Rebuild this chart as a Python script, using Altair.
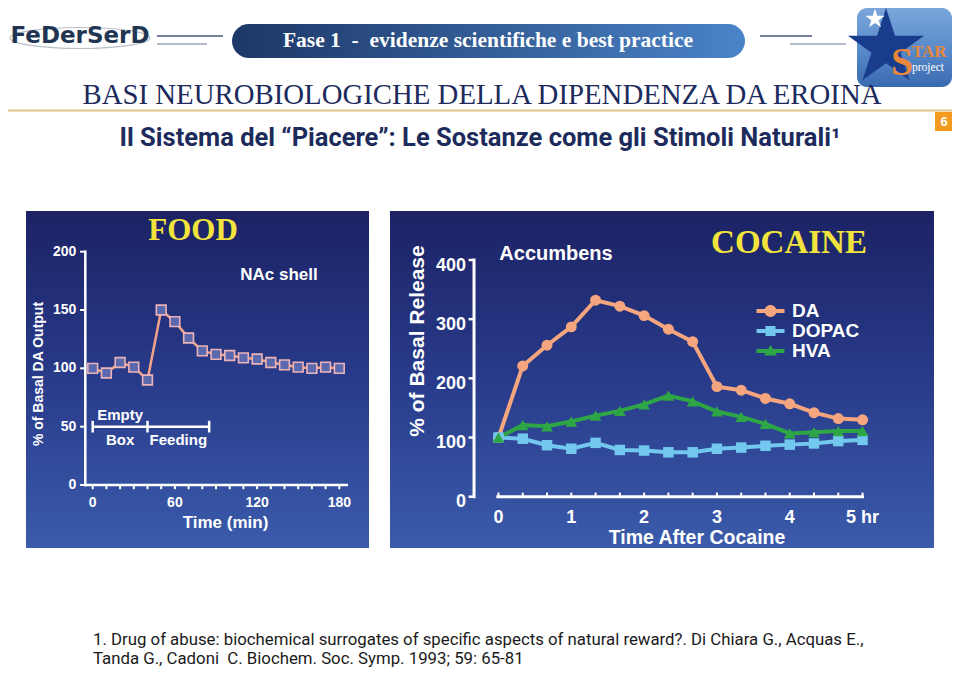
import altair as alt
import pandas as pd

# ---------------- values ----------------
food_minutes = [0, 10, 20, 30, 40, 50, 60, 70, 80, 90, 100, 110, 120, 130, 140, 150, 160, 170, 180]
food_da = [100, 96, 105, 101, 90, 150, 140, 126, 115, 112, 111, 109, 108, 105, 103, 101, 100, 101, 100]
food_y_ticks = [0, 50, 100, 150, 200]
food_x_labels = [0, 60, 120, 180]

period_names = ["Empty Box", "Feeding"]
period_start = [0, 40]
period_end = [40, 85]
period_above = ["Empty", ""]
period_below = ["Box", "Feeding"]
period_bounds = [0, 40, 85]

coc_hours = [0, 0.3333, 0.6667, 1, 1.3333, 1.6667, 2, 2.3333, 2.6667,
             3, 3.3333, 3.6667, 4, 4.3333, 4.6667, 5]
coc_da = [100, 221, 256, 287, 332, 322, 306, 283, 262, 186, 180, 166, 157, 142, 132, 130]
coc_dopac = [100, 98, 87, 81, 91, 79, 78, 75, 75, 81, 83, 86, 88, 90, 94, 96]
coc_hva = [100, 121, 119, 127, 137, 145, 156, 171, 161, 144, 135, 123, 107, 109, 111, 111]
coc_series = ["DA", "DOPAC", "HVA"]
coc_y_ticks = [0, 100, 200, 300, 400]
coc_x_labels = [0, 1, 2, 3, 4, 5]
coc_x_label_text = ["0", "1", "2", "3", "4", "5 hr"]

NB = "\u00a0"
banner_text = "Fase 1" + NB + NB + "-" + NB + NB + "evidenze scientifiche e best practice"
main_title = "BASI NEUROBIOLOGICHE DELLA DIPENDENZA DA EROINA"
subtitle = "Il Sistema del \u201cPiacere\u201d: Le Sostanze come gli Stimoli Naturali\u00b9"
foot1 = "1. Drug of abuse: biochemical surrogates of specific aspects of natural reward?. Di Chiara G., Acquas E.,"
foot2 = "Tanda G., Cadoni" + NB + NB + "C. Biochem. Soc. Symp. 1993; 59: 65-81"

# ---------------- styling ----------------
W, H = 944, 660
SANS = "Liberation Sans, Arial, sans-serif"
SERIF = "Liberation Serif, Times New Roman, serif"
NARROW = "Roboto, Liberation Sans, sans-serif"
NAVY = "#1c2b5c"
WHITE = "#ffffff"
coc_colors = ["#f6a67e", "#72c8ee", "#2fa646"]
legend_paths = [
    "M-2,-0.28L2,-0.28L2,0.28L-2,0.28Z M-0.85,0A0.85,0.85 0 1,1 0.85,0A0.85,0.85 0 1,1 -0.85,0Z",
    "M-2,-0.28L2,-0.28L2,0.28L-2,0.28Z M-0.72,-0.72L0.72,-0.72L0.72,0.72L-0.72,0.72Z",
    "M-2,-0.28L2,-0.28L2,0.28L-2,0.28Z M0,-0.85L0.92,0.65L-0.92,0.65Z",
]
STAR_PATH = ("M0,-1L0.2245,-0.309L0.951,-0.309L0.363,0.118L0.588,0.809L0,0.382"
             "L-0.588,0.809L-0.363,0.118L-0.951,-0.309L-0.2245,-0.309Z")
ELLIPSE_PATH = "M-1,0A1,0.15 0 1,0 1,0A1,0.15 0 1,0 -1,0"

dummy = pd.DataFrame({"k": [0]})


def txt(text, x, y, size, color, font=SANS, weight="bold", align="center", baseline="middle", **kw):
    return alt.Chart(dummy).mark_text(text=text, fontSize=size, color=color, font=font,
                                      fontWeight=weight, align=align, baseline=baseline, **kw
                                      ).encode(x=alt.value(x), y=alt.value(y))


def box(x, x2, y, y2, color, **kw):
    return alt.Chart(dummy).mark_rect(color=color, **kw).encode(
        x=alt.value(x), x2=alt.value(x2), y=alt.value(y), y2=alt.value(y2))


def hline(x, x2, y, color, width):
    return alt.Chart(dummy).mark_rule(color=color, strokeWidth=width).encode(
        x=alt.value(x), x2=alt.value(x2), y=alt.value(y))


def vgrad(top, mid, bottom):
    return alt.LinearGradient(gradient="linear", x1=0, x2=0, y1=0, y2=1,
                              stops=[alt.GradientStop(offset=0, color=top),
                                     alt.GradientStop(offset=0.5, color=mid),
                                     alt.GradientStop(offset=1, color=bottom)])


# ---------------- slide decorations ----------------
decor = [
    alt.Chart(dummy).mark_point(shape=ELLIPSE_PATH, size=19600, filled=False, color="#b8bec8",
                                strokeWidth=1.2, opacity=1).encode(x=alt.value(72), y=alt.value(30)),
    txt("FeDerSerD", 72, 28, 23, "#1f3552", font="DejaVu Sans, sans-serif"),
    hline(149, 215, 28, "#4a5a78", 1.5),
    hline(149, 199, 36, "#9aa4b8", 1.5),
    hline(752, 804, 28, "#4a5a78", 1.5),
    hline(782, 838, 36, "#9aa4b8", 1.5),
    box(224, 737, 16, 50, alt.LinearGradient(gradient="linear", x1=0, x2=1, y1=0, y2=0,
                                            stops=[alt.GradientStop(offset=0, color="#1d3767"),
                                                   alt.GradientStop(offset=1, color="#4a84c8")]),
        cornerRadius=17),
    txt(banner_text, 480, 33, 21.5, WHITE, font=SERIF),
    box(849, 944, 0, 79, vgrad("#7aa6da", "#5a8ccc", "#3a6ab0"), cornerRadius=10),
    alt.Chart(dummy).mark_point(shape=STAR_PATH, size=6400, filled=True, color="#1a3c8c",
                                opacity=1).encode(x=alt.value(878), y=alt.value(40)),
    alt.Chart(dummy).mark_point(shape=STAR_PATH, size=420, filled=True, color=WHITE,
                                opacity=1).encode(x=alt.value(867), y=alt.value(11)),
    txt("S", 894, 55, 40, "#e8873a", font=SERIF),
    txt("TAR", 904, 44, 17, "#e8873a", font=SERIF, align="left"),
    txt("project", 904, 60, 11.5, WHITE, font=SERIF, weight="normal", align="left"),
    txt(main_title, 474, 87, 28.8, NAVY, font=SERIF, weight="normal"),
    hline(0, 944, 102.5, "#dcc48c", 2),
    box(927, 944, 104, 123, "#f39a1f"),
    txt("6", 936, 114, 13, WHITE),
    txt(subtitle, 472, 130, 25.5, NAVY, font=NARROW),
    box(18, 361, 203, 540, vgrad("#1c2264", "#283b8a", "#3b5bab")),
    box(382, 926, 203, 540, vgrad("#1c2264", "#283b8a", "#3b5bab")),
]

# ---------------- FOOD panel ----------------
FX_DOM = [-5.4, 185.4]
FY_DOM = [0, 200]
fx_scale = alt.Scale(domain=FX_DOM, range=[77.3, 338.7], nice=False, zero=False)
fy_scale = alt.Scale(domain=FY_DOM, range=[477, 243.7], nice=False, zero=False)

food_df = pd.DataFrame({"minute": food_minutes, "pct": food_da})
fxt_df = pd.DataFrame({"v": food_minutes})
fxl_df = pd.DataFrame({"v": food_x_labels, "t": [str(v) for v in food_x_labels]})
fyl_df = pd.DataFrame({"v": food_y_ticks, "t": [str(v) for v in food_y_ticks]})


def FX(f=None, **kw):
    return alt.X(f, scale=fx_scale, axis=None, **kw) if f else alt.X(scale=fx_scale, axis=None, **kw)


def FY(f=None, **kw):
    return alt.Y(f, scale=fy_scale, axis=None, **kw) if f else alt.Y(scale=fy_scale, axis=None, **kw)


food_line = alt.Chart(food_df).mark_line(color="#f2a48a", strokeWidth=2.5).encode(
    x=FX("minute:Q"), y=FY("pct:Q"))
food_pts = alt.Chart(food_df).mark_square(size=95, fill="#5a68ae", stroke="#ecb4b8",
                                          strokeWidth=1.6, opacity=1).encode(
    x=FX("minute:Q"), y=FY("pct:Q"))
food_xdomain = alt.Chart(dummy).mark_rule(color=WHITE, strokeWidth=2.5, strokeCap="square").encode(
    x=FX(datum=FX_DOM[0]), x2=alt.X2(datum=FX_DOM[1]), y=FY(datum=0))
food_ydomain = alt.Chart(dummy).mark_rule(color=WHITE, strokeWidth=2.5, strokeCap="square").encode(
    x=FX(datum=FX_DOM[0]), y=FY(datum=FY_DOM[0]), y2=alt.Y2(datum=FY_DOM[1]))
food_xticks = alt.Chart(fxt_df).mark_rule(color=WHITE, strokeWidth=2).encode(
    x=FX("v:Q"), y=FY(datum=0), y2=alt.Y2(datum=-3.6))
food_yticks = alt.Chart(fyl_df).mark_rule(color=WHITE, strokeWidth=2).encode(
    y=FY("v:Q"), x=FX(datum=FX_DOM[0]), x2=alt.X2(datum=FX_DOM[0] - 3.8))
food_xlabels = alt.Chart(fxl_df).mark_text(color=WHITE, font=SANS, fontWeight="bold",
                                           fontSize=14, dy=18, baseline="middle").encode(
    x=FX("v:Q"), y=FY(datum=0), text="t:N")
food_ylabels = alt.Chart(fyl_df).mark_text(color=WHITE, font=SANS, fontWeight="bold",
                                           fontSize=14, dx=-9, align="right", baseline="middle").encode(
    x=FX(datum=FX_DOM[0]), y=FY("v:Q"), text="t:N")

period_df = pd.DataFrame({"name": period_names, "start": period_start, "end": period_end,
                          "above": period_above, "below": period_below,
                          "mid": [(a + b) / 2 for a, b in zip(period_start, period_end)]})
bounds_df = pd.DataFrame({"b": period_bounds})
period_bar = alt.Chart(period_df).mark_rule(color=WHITE, strokeWidth=2.5).encode(
    x=FX("start:Q"), x2="end:Q", y=FY(datum=50))
period_caps = alt.Chart(bounds_df).mark_rule(color=WHITE, strokeWidth=2.5).encode(
    x=FX("b:Q"), y=FY(datum=45), y2=alt.Y2(datum=55))
period_top = alt.Chart(period_df).mark_text(color=WHITE, font=SANS, fontWeight="bold",
                                            fontSize=15, dy=-12).encode(
    x=FX("mid:Q"), y=FY(datum=50), text="above:N")
period_bot = alt.Chart(period_df).mark_text(color=WHITE, font=SANS, fontWeight="bold",
                                            fontSize=15, dy=13).encode(
    x=FX("mid:Q"), y=FY(datum=50), text="below:N")

food_layer = alt.layer(food_xdomain, food_ydomain, food_xticks, food_yticks, food_xlabels,
                       food_ylabels, food_line, food_pts, period_bar, period_caps,
                       period_top, period_bot)

# ---------------- COCAINE panel ----------------
CX_DOM = [-0.03, 5.02]
CY_DOM = [0, 400]
CY_AXIS_AT = -0.336          # hours: the y axis stands a little left of time 0
cx_scale = alt.Scale(domain=CX_DOM, range=[488.3, 856.0], nice=False, zero=False)
cy_scale = alt.Scale(domain=CY_DOM, range=[488.7, 252.0], nice=False, zero=False)


def CX(f=None, **kw):
    return alt.X(f, scale=cx_scale, axis=None, **kw) if f else alt.X(scale=cx_scale, axis=None, **kw)


def CY(f=None, **kw):
    return alt.Y(f, scale=cy_scale, axis=None, **kw) if f else alt.Y(scale=cy_scale, axis=None, **kw)


coc_df = pd.DataFrame({
    "hour": coc_hours * 3,
    "series": [coc_series[0]] * len(coc_hours) + [coc_series[1]] * len(coc_hours)
              + [coc_series[2]] * len(coc_hours),
    "pct": coc_da + coc_dopac + coc_hva,
})
cxt_df = pd.DataFrame({"v": coc_hours})
cxl_df = pd.DataFrame({"v": coc_x_labels, "t": coc_x_label_text})
cyl_df = pd.DataFrame({"v": coc_y_ticks, "t": [str(v) for v in coc_y_ticks]})

leg = alt.Legend(orient="none", legendX=753, legendY=293.5, title=None, symbolSize=196,
                 symbolStrokeWidth=0, labelColor=WHITE, labelFont=SANS, labelFontSize=19,
                 labelFontWeight="bold", labelOffset=12, rowPadding=0, padding=0)
coc_key = alt.Chart(coc_df).mark_point(filled=True, size=1, opacity=1).encode(
    x=CX("hour:Q"), y=CY("pct:Q"),
    color=alt.Color("series:N", scale=alt.Scale(domain=coc_series, range=coc_colors), legend=leg),
    shape=alt.Shape("series:N", scale=alt.Scale(domain=coc_series, range=legend_paths), legend=leg),
)
coc_xdomain = alt.Chart(dummy).mark_rule(color=WHITE, strokeWidth=3).encode(
    x=CX(datum=CX_DOM[0]), x2=alt.X2(datum=CX_DOM[1]), y=CY(datum=0))
coc_ydomain = alt.Chart(dummy).mark_rule(color=WHITE, strokeWidth=3, strokeCap="square").encode(
    x=CX(datum=CY_AXIS_AT), y=CY(datum=CY_DOM[0]), y2=alt.Y2(datum=CY_DOM[1]))
coc_xticks = alt.Chart(cxt_df).mark_rule(color=WHITE, strokeWidth=2).encode(
    x=CX("v:Q"), y=CY(datum=0), y2=alt.Y2(datum=7))
coc_yticks = alt.Chart(cyl_df).mark_rule(color=WHITE, strokeWidth=2.5).encode(
    y=CY("v:Q"), x=CX(datum=CY_AXIS_AT), x2=alt.X2(datum=CY_AXIS_AT - 0.075))
coc_xlabels = alt.Chart(cxl_df).mark_text(color=WHITE, font=SANS, fontWeight="bold",
                                          fontSize=18, dy=21, baseline="middle").encode(
    x=CX("v:Q"), y=CY(datum=0), text="t:N")
coc_ylabels = alt.Chart(cyl_df).mark_text(color=WHITE, font=SANS, fontWeight="bold",
                                          fontSize=18, dx=-8, dy=5.5, align="right",
                                          baseline="middle").encode(
    x=CX(datum=CY_AXIS_AT), y=CY("v:Q"), text="t:N")

coc_parts = [coc_key, coc_xdomain, coc_ydomain, coc_xticks, coc_yticks, coc_xlabels, coc_ylabels]
marker_marks = [
    lambda c: alt.MarkDef(type="circle", size=120, color=c, opacity=1),
    lambda c: alt.MarkDef(type="square", size=110, color=c, opacity=1),
    lambda c: alt.MarkDef(type="point", shape="triangle-up", filled=True, size=140, color=c, opacity=1),
]
for s, c in zip(coc_series, coc_colors):
    coc_parts.append(alt.Chart(coc_df).transform_filter(alt.datum.series == s)
                     .mark_line(color=c, strokeWidth=4)
                     .encode(x=CX("hour:Q"), y=CY("pct:Q")))
for s, c, mk in zip(coc_series, coc_colors, marker_marks):
    ch = alt.Chart(coc_df).transform_filter(alt.datum.series == s)
    ch.mark = mk(c)
    coc_parts.append(ch.encode(x=CX("hour:Q"), y=CY("pct:Q")))

coc_layer = alt.layer(*coc_parts)

# ---------------- panel texts, axis titles & footnote ----------------
texts = [
    txt("FOOD", 185, 223, 31, "#f2e43c", font=SERIF),
    txt("NAc shell", 271, 267, 17, WHITE),
    txt("Time (min)", 217.5, 515, 17, WHITE),
    txt("% of Basal DA Output", 31, 366, 14, WHITE, angle=270),
    txt("COCAINE", 781, 235, 33, "#f2e43c", font=SERIF),
    txt("Accumbens", 548, 246, 20, WHITE),
    txt("Time After Cocaine", 689, 530, 19.5, WHITE),
    txt("% of Basal Release", 410, 333, 21, WHITE, angle=270),
    txt(foot1, 85, 637, 16.8, "#1a1a1a", font=NARROW, weight="normal", align="left", baseline="alphabetic"),
    txt(foot2, 85, 656, 16.8, "#1a1a1a", font=NARROW, weight="normal", align="left", baseline="alphabetic"),
]

chart = alt.layer(*decor, food_layer, coc_layer, *texts).resolve_scale(
    x="independent", y="independent"
).properties(
    width=W, height=H, padding=0, background="white",
    autosize=alt.AutoSizeParams(type="none"),
).configure_view(stroke=None)

chart.save("out.html", embed_options={"renderer": "svg", "actions": False})
